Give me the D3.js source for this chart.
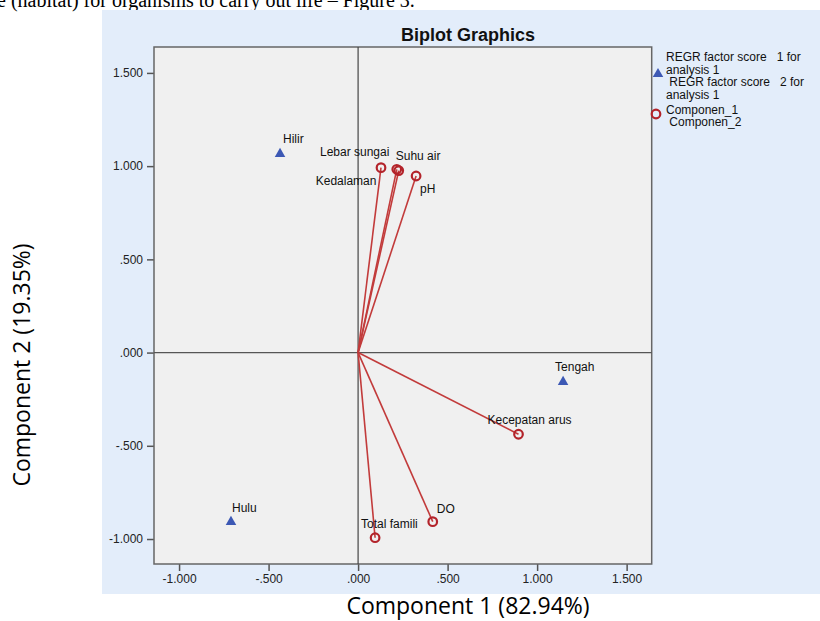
<!DOCTYPE html>
<html><head><meta charset="utf-8">
<script src="https://cdn.jsdelivr.net/npm/d3@7/dist/d3.min.js"></script>
<style>
body{margin:0;background:#fff;overflow:hidden;}
svg{display:block;font-family:"Liberation Sans",Arial,sans-serif;}
</style>
</head><body>
<svg id="c" width="820" height="621"></svg>
<script>
// ---- data ----
const objectNames = ["Hilir", "Hulu", "Tengah"];
const objectX = [-0.436, -0.710, 1.145];
const objectY = [1.071, -0.903, -0.152];

const variableNames = ["Lebar sungai", "Kedalaman", "Suhu air", "pH", "Kecepatan arus", "DO", "Total famili"];
const variableX = [0.128, 0.216, 0.227, 0.324, 0.896, 0.417, 0.095];
const variableY = [0.992, 0.983, 0.976, 0.947, -0.438, -0.907, -0.993];

const xTicks = [-1.0, -0.5, 0.0, 0.5, 1.0, 1.5];
const yTicks = [-1.0, -0.5, 0.0, 0.5, 1.0, 1.5];

const chartTitle = "Biplot Graphics";
const xTitle = "Component 1 (82.94%)";
const yTitle = "Component 2 (19.35%)";
const legendTriangleLines = ["REGR factor score   1 for", "analysis 1", " REGR factor score   2 for", "analysis 1"];
const legendCircleLines = ["Componen_1", " Componen_2"];
const captionText = "e (habitat) for organisms to carry out life \u2013 Figure 3.";

// ---- label placement (layout only) ----
const labelOffset = {
  "Hilir": [3, -10], "Hulu": [1, -9], "Tengah": [-8, -10],
  "Lebar sungai": [-61, -12], "Kedalaman": [-81, 16], "Suhu air": [-3, -11],
  "pH": [4, 17], "Kecepatan arus": [-31, -10], "DO": [4, -9], "Total famili": [-14, -10]
};

const svg = d3.select("#c");
const red = "#c23b3b", redDark = "#b3232a", blue = "#3c58b4";

// caption (cut off at top)
svg.append("text").attr("x", -3).attr("y", 7)
  .attr("font-family", "'Liberation Serif','Times New Roman',serif")
  .attr("font-size", 20).attr("fill", "#000").text(captionText);

// blue panel
svg.append("rect").attr("x", 102).attr("y", 10).attr("width", 718).attr("height", 584).attr("fill", "#e3edfa");

const x = d3.scaleLinear().domain([-1.14, 1.64]).range([154, 651.7]);
const y = d3.scaleLinear().domain([-1.134, 1.639]).range([564, 47]);

// plot background
svg.append("rect").attr("x", x.range()[0]).attr("y", y.range()[1])
  .attr("width", x.range()[1] - x.range()[0]).attr("height", y.range()[0] - y.range()[1])
  .attr("fill", "#f0f0f0");

const fmt = v => {
  const s = Math.abs(v).toFixed(3).replace(/^0\./, ".");
  return (v < 0 ? "-" : "") + s;
};

// axes
const gx = svg.append("g").attr("transform", `translate(0,${y.range()[0]})`)
  .call(d3.axisBottom(x).tickValues(xTicks).tickFormat(fmt).tickSize(7).tickSizeOuter(0).tickPadding(3));
const gy = svg.append("g").attr("transform", `translate(${x.range()[0]},0)`)
  .call(d3.axisLeft(y).tickValues(yTicks).tickFormat(fmt).tickSize(7).tickSizeOuter(0).tickPadding(4));
[gx, gy].forEach(g => {
  g.select(".domain").remove();
  g.selectAll(".tick line").attr("stroke", "#555").attr("stroke-width", 1.5);
  g.selectAll(".tick text").attr("font-size", 12).attr("fill", "#222")
    .attr("font-family", "'Liberation Sans',Arial,sans-serif");
});

// frame
svg.append("rect").attr("x", x.range()[0]).attr("y", y.range()[1])
  .attr("width", x.range()[1] - x.range()[0]).attr("height", y.range()[0] - y.range()[1])
  .attr("fill", "none").attr("stroke", "#666").attr("stroke-width", 1.5);

// zero lines
svg.append("line").attr("x1", x(0)).attr("x2", x(0)).attr("y1", y.range()[1]).attr("y2", y.range()[0])
  .attr("stroke", "#444").attr("stroke-width", 1.2);
svg.append("line").attr("x1", x.range()[0]).attr("x2", x.range()[1]).attr("y1", y(0)).attr("y2", y(0))
  .attr("stroke", "#555").attr("stroke-width", 1.3);

// title
svg.append("text").attr("x", 468).attr("y", 41).attr("text-anchor", "middle")
  .attr("font-size", 18).attr("font-weight", "bold").attr("fill", "#111").text(chartTitle);

// vectors
const vars = variableNames.map((n, i) => ({ name: n, x: variableX[i], y: variableY[i] }));
svg.append("g").selectAll("line").data(vars).join("line")
  .attr("x1", x(0)).attr("y1", y(0)).attr("x2", d => x(d.x)).attr("y2", d => y(d.y))
  .attr("stroke", red).attr("stroke-width", 1.6);
svg.append("g").selectAll("circle").data(vars).join("circle")
  .attr("cx", d => x(d.x)).attr("cy", d => y(d.y)).attr("r", 4.3)
  .attr("fill", "none").attr("stroke", redDark).attr("stroke-width", 2.2);

// objects
const objs = objectNames.map((n, i) => ({ name: n, x: objectX[i], y: objectY[i] }));
const tri = d3.symbol().type(d3.symbolTriangle).size(48);
svg.append("g").selectAll("path").data(objs).join("path")
  .attr("d", tri).attr("transform", d => `translate(${x(d.x)},${y(d.y) + 1})`)
  .attr("fill", blue);

// labels
svg.append("g").selectAll("text").data(objs.concat(vars)).join("text")
  .attr("x", d => x(d.x) + labelOffset[d.name][0])
  .attr("y", d => y(d.y) + labelOffset[d.name][1])
  .attr("font-size", 12).attr("fill", "#111").text(d => d.name);

// legend
svg.append("path").attr("d", tri).attr("transform", "translate(658,74)").attr("fill", blue);
svg.append("circle").attr("cx", 656).attr("cy", 114).attr("r", 4.3)
  .attr("fill", "none").attr("stroke", redDark).attr("stroke-width", 2.2);
svg.append("g").selectAll("text").data(legendTriangleLines).join("text")
  .attr("x", 666).attr("y", (d, i) => 61 + i * 12.6)
  .style("white-space", "pre").attr("font-size", 12).attr("fill", "#111").text(d => d);
svg.append("g").selectAll("text").data(legendCircleLines).join("text")
  .attr("x", 666).attr("y", (d, i) => 113.5 + i * 12.6).style("white-space", "pre")
  .attr("font-size", 12).attr("fill", "#111").text(d => d);

// axis titles
svg.append("text").attr("x", 468).attr("y", 614).attr("text-anchor", "middle")
  .attr("font-family", "'Open Sans','Noto Sans',sans-serif").attr("font-size", 23).attr("fill", "#000").text(xTitle);
svg.append("text").attr("transform", "translate(30,365) rotate(-90)").attr("text-anchor", "middle")
  .attr("font-family", "'Open Sans','Noto Sans',sans-serif").attr("font-size", 23).attr("fill", "#000").text(yTitle);
</script>
</body></html>
